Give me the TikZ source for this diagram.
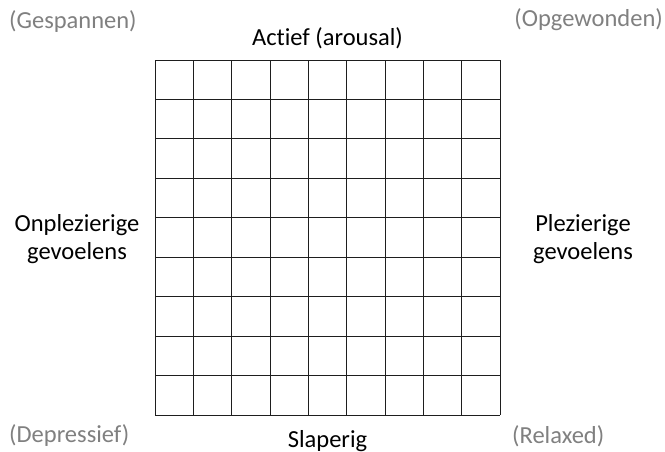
\documentclass[tikz,border=0pt]{standalone}
\usepackage{fontspec}
\setmainfont{Carlito}[Ligatures=NoCommon]
\usepackage{xcolor}
\usepackage{tikz}
\definecolor{cornergray}{RGB}{128, 128, 128}
\definecolor{gridblack}{RGB}{30, 30, 30}

\begin{document}
\begin{tikzpicture}[x=1pt, y=1pt, every node/.style={inner sep=0pt, align=center, font=\fontsize{24.5}{28.5}\selectfont},
    axislabel/.style={text=black},
    cornerlabel/.style={text=cornergray},
    gridline/.style={draw=gridblack, line width=0.9pt}]
        \useasboundingbox (0,0) rectangle (665,452);
        % raster van 9 x 9 vakjes
        \foreach \i in {0,...,9} {
            \draw[gridline] ({155+\i*345/9},37) -- ({155+\i*345/9},392);
            \draw[gridline] (155,{37+\i*355/9}) -- (500,{37+\i*355/9});
        }
        \coordinate (grid) at (327.5,214.5);
        
        \node[axislabel] (actief) at (327.5,414) {Actief (arousal)};
        \node[axislabel] (slaperig) at (327.5,11) {Slaperig};
        \node[axislabel] (onplezierig) at (77,213) {Onplezierige\\gevoelens};
        \node[axislabel] (plezierig) at (583,213) {Plezierige\\gevoelens};
        
        \node[cornerlabel, anchor=west] (gespannen) at (9,430) {(Gespannen)};
        \node[cornerlabel, anchor=east] (opgewonden) at (663,432) {(Opgewonden)};
        \node[cornerlabel, anchor=west] (depressief) at (9,16) {(Depressief)};
        \node[cornerlabel, anchor=west] (relaxed) at (512,16) {(Relaxed)};
    \end{tikzpicture}
\end{document}
